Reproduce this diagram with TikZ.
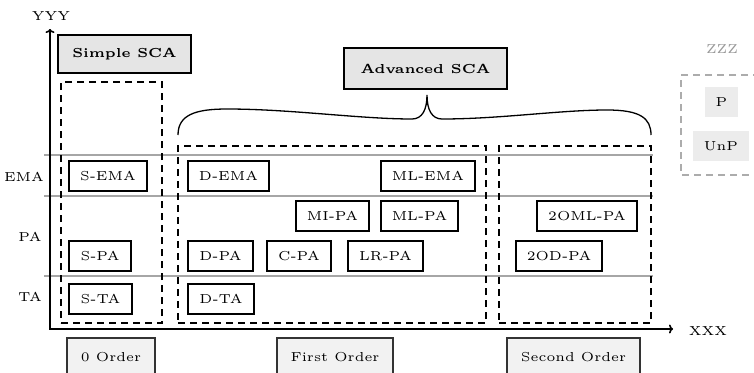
\documentclass[tikz,border=0pt]{standalone}
\usepackage{graphicx}
\usetikzlibrary{arrows.meta}
\newcommand\tx[1]{\scalebox{2.6}{\tiny #1}}
\newcommand\tb[1]{\scalebox{2.6}{\tiny\bfseries #1}}
\begin{document}
\begin{tikzpicture}[x=1pt,y=-1pt,
  box/.style={draw, line width=1.6pt, fill=white, inner sep=0pt, minimum height=30pt},
  title/.style={draw, line width=1.6pt, fill=gray!20, inner sep=0pt},
  order/.style={draw=black!80, line width=1.4pt, fill=gray!10, inner sep=0pt, minimum height=38pt},
  region/.style={draw, line width=1.6pt, dash pattern=on 7pt off 5pt, inner sep=0pt},
  lane/.style={draw=gray!70, line width=1.6pt},
  lbl/.style={inner sep=0pt},
  leg/.style={fill=gray!15, inner sep=0pt, minimum height=30pt},
  axis/.style={line width=1.6pt, {To[length=4pt,width=9pt]}-{To[length=4pt,width=9pt]}}
]
\useasboundingbox (0,0) rectangle (754,372);

% lanes
\coordinate (l1a) at (44,155); \coordinate (l1b) at (653,155);
\coordinate (l2a) at (44,196); \coordinate (l2b) at (653,196);
\coordinate (l3a) at (44,276); \coordinate (l3b) at (653,276);
\draw[lane] (l1a) -- (l1b);
\draw[lane] (l2a) -- (l2b);
\draw[lane] (l3a) -- (l3b);

% regions
\node[region, minimum width=101pt, minimum height=241pt] (r0) at (111.5,202.5) {};
\node[region, minimum width=308pt, minimum height=177pt] (r1) at (332,234.5) {};
\node[region, minimum width=152pt, minimum height=177pt] (r2) at (575,234.5) {};

% axes
\coordinate (o) at (50,329);
\coordinate (ytip) at (50,29);
\coordinate (xtip) at (673,329);
\draw[axis] (ytip) -- (o) -- (xtip);
\node[lbl] (yyy) at (51,16) {\tx{YYY}};
\node[lbl] (xxx) at (708,331) {\tx{XXX}};
\node[lbl] (ema) at (24,177) {\tx{EMA}};
\node[lbl] (pa) at (30,237) {\tx{PA}};
\node[lbl] (ta) at (30,297) {\tx{TA}};

% titles
\node[title, minimum width=133pt, minimum height=38pt] (simple) at (124.5,54) {\tb{Simple SCA}};
\node[title, minimum width=163pt, minimum height=41pt] (adv) at (425.5,68.5) {\tb{Advanced SCA}};

% brace
\coordinate (bl) at (178,135);
\coordinate (bt) at (427,95);
\coordinate (br) at (651,135);
\draw[line width=1.3pt] (bl) .. controls (178,115) and (195,109) .. (227,109)
  .. controls (290,109) and (360,119) .. (412,119)
  .. controls (422,119) and (427,110) .. (bt)
  .. controls (427,110) and (432,119) .. (442,119)
  .. controls (500,119) and (560,110) .. (607,110)
  .. controls (640,110) and (651,118) .. (br);

% zero order
\node[box, minimum width=78pt] (sema) at (108,176) {\tx{S-EMA}};
\node[box, minimum width=62pt] (spa) at (100,256) {\tx{S-PA}};
\node[box, minimum width=63pt] (sta) at (100.5,299) {\tx{S-TA}};

% first order
\node[box, minimum width=81pt] (dema) at (228.5,176) {\tx{D-EMA}};
\node[box, minimum width=94pt] (mlema) at (428,176) {\tx{ML-EMA}};
\node[box, minimum width=73pt] (mipa) at (332.5,216) {\tx{MI-PA}};
\node[box, minimum width=77pt] (mlpa) at (419.5,216) {\tx{ML-PA}};
\node[box, minimum width=65pt] (dpa) at (220.5,256) {\tx{D-PA}};
\node[box, minimum width=64pt] (cpa) at (299,256) {\tx{C-PA}};
\node[box, minimum width=75pt] (lrpa) at (385.5,256) {\tx{LR-PA}};
\node[box, minimum width=66pt] (dta) at (221,299) {\tx{D-TA}};

% second order
\node[box, minimum width=100pt] (omlpa) at (587,216) {\tx{2OML-PA}};
\node[box, minimum width=86pt] (odpa) at (559,256) {\tx{2OD-PA}};

% orders
\node[order, minimum width=88pt] (o0) at (111,357) {\tx{0 Order}};
\node[order, minimum width=116pt] (o1) at (335,357) {\tx{First Order}};
\node[order, minimum width=133pt] (o2) at (573.5,357) {\tx{Second Order}};

% legend
\node[lbl, text=gray!80] (zzz) at (722,49) {\tx{ZZZ}};
\draw[draw=gray!65, line width=1.6pt, dash pattern=on 7pt off 5pt] (760,75) -- (681,75) -- (681,175) -- (760,175);
\node[leg, minimum width=33pt] (p) at (721.5,102) {\tx{P}};
\node[leg, minimum width=56pt] (unp) at (721,146) {\tx{UnP}};
\end{tikzpicture}
\end{document}
